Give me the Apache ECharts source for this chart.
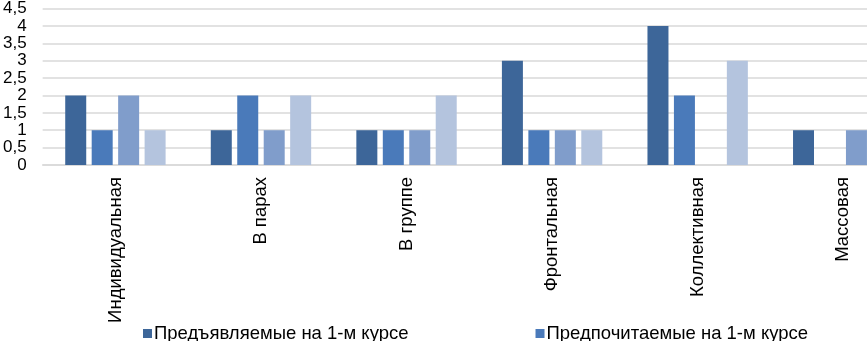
<!DOCTYPE html>
<html>
<head>
<meta charset="utf-8">
<script src="https://cdn.jsdelivr.net/npm/echarts@6/dist/echarts.min.js"></script>
<style>
html, body { margin: 0; padding: 0; background: #fff; overflow: hidden; }
/* the original chart runs past the right edge of the picture */
#chart { width: 916px; height: 341px; }
</style>
</head>
<body>
<div id="chart"></div>
<script>
// Forms of work by category; four series, the last group is cut off at the right edge.
const categories = ['Индивидуальная', 'В парах', 'В группе', 'Фронтальная', 'Коллективная', 'Массовая'];
const seriesNames = [
  'Предъявляемые на 1-м курсе',
  'Предпочитаемые на 1-м курсе',
  'Предъявляемые на 4-м курсе',
  'Предпочитаемые на 4-м курсе'
];
const presented1 = [2, 1, 1, 3, 4, 1];
const preferred1 = [1, 2, 1, 1, 2, 0];
const presented4 = [2, 1, 1, 1, 0, 1];
const preferred4 = [1, 2, 2, 1, 3, 0];
const colors = ['#3d6699', '#4a7aba', '#809dcb', '#b4c4de'];

const font = '"Liberation Sans", Arial, sans-serif';
const chart = echarts.init(document.getElementById('chart'), null, { renderer: 'canvas' });

const values = [presented1, preferred1, presented4, preferred4];

chart.setOption({
  backgroundColor: '#fff',
  animation: false,
  textStyle: { fontFamily: font },
  grid: { left: 42, right: 0, top: 7, bottom: 176, containLabel: false },
  legend: {
    data: seriesNames.slice(0, 2),
    left: 138, top: 319,
    itemWidth: 9, itemHeight: 9, itemGap: 127,
    icon: 'rect',
    textStyle: { fontFamily: font, fontSize: 18.5, color: '#000', padding: [0, 0, 0, -3] }
  },
  xAxis: {
    type: 'category',
    data: categories,
    axisLine: { lineStyle: { color: '#d9d9d9', width: 1.5 } },
    axisTick: { show: false },
    axisLabel: { rotate: 90, margin: 12, fontSize: 18.5, color: '#000', fontFamily: font }
  },
  yAxis: {
    type: 'value',
    min: 0, max: 4.5, interval: 0.5,
    axisLine: { show: false },
    axisTick: { show: false },
    splitLine: { lineStyle: { color: '#d9d9d9', width: 1.5 } },
    axisLabel: {
      margin: 16, fontSize: 17, color: '#000', fontFamily: font,
      formatter: function (v) { return String(v).replace('.', ','); }
    }
  },
  series: values.map(function (d, i) {
    return {
      name: seriesNames[i],
      type: 'bar',
      data: d,
      barWidth: 21,
      barGap: '26%',
      itemStyle: { color: colors[i] }
    };
  })
});
</script>
</body>
</html>
